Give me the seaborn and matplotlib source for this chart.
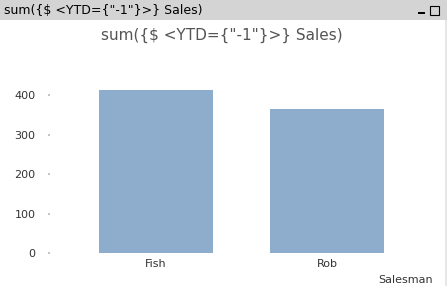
import matplotlib
matplotlib.use("Agg")
import matplotlib.pyplot as plt
import seaborn as sns
import pandas as pd
from matplotlib.patches import Rectangle

salesman = ["Fish", "Rob"]
sales = [412, 365]
yticks = [0, 100, 200, 300, 400]
title = 'sum({$ <YTD={"-1"}>} Sales)'

sns.set_theme(style="white")
plt.rcParams['font.family'] = ['DejaVu Sans']

fig = plt.figure(figsize=(4.47, 2.86), dpi=100)
fig.patch.set_facecolor("white")

# window header bar
fig.patches.append(Rectangle((0, 1 - 20/286), 1, 20/286, transform=fig.transFigure,
                             facecolor="#d4d4d4", edgecolor="none", zorder=0))
fig.text(4/447, 1 - 10/286, title, fontsize=9, color="black", va="center", ha="left")
# window icons
fig.patches.append(Rectangle((418/447, 1 - 14/286), 7/447, 2/286, transform=fig.transFigure,
                             facecolor="black", edgecolor="none"))
fig.patches.append(Rectangle((430/447, 1 - 15/286), 9/447, 9/286, transform=fig.transFigure,
                             facecolor="none", edgecolor="black", linewidth=0.8))
# right border
fig.patches.append(Rectangle((445/447, 0), 2/447, 1 - 20/286, transform=fig.transFigure,
                             facecolor="#e6e6e6", edgecolor="none"))

fig.text(222/447, 1 - 35/286, title, fontsize=11, color="#555555", ha="center", va="center")

ax = fig.add_axes([50/447, 33/286, 380/447, 173/286])
df = pd.DataFrame({"Salesman": salesman, "Sales": sales})
sns.barplot(data=df, x="Salesman", y="Sales", color="#8eaccb", saturation=1,
            width=0.667, linewidth=0, ax=ax)
ax.set_xlim(-0.62, 1.60)
ax.set_ylim(0, 438)
ax.set_yticks(yticks)
ax.set_yticklabels([str(v) for v in yticks], fontsize=8, color="#333333")
ax.tick_params(axis="y", length=1.5, color="#bbbbbb", pad=9, left=True)
ax.tick_params(axis="x", length=0, pad=4, labelsize=8, labelcolor="#333333")
for s in ax.spines.values():
    s.set_visible(False)
ax.set_xlabel("")
ax.set_ylabel("")
fig.text(433/447, 1 - 280/286, "Salesman", fontsize=8, color="#333333", ha="right", va="center")

fig.savefig("out.png", dpi=100)
